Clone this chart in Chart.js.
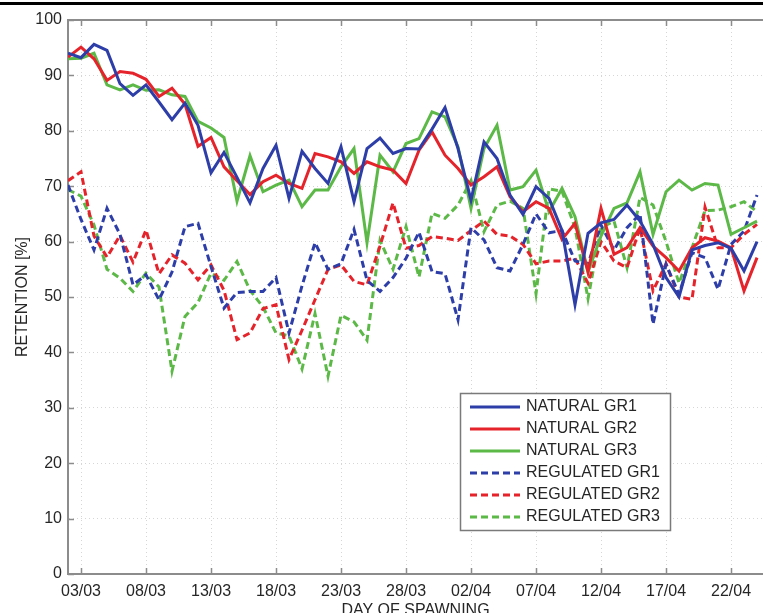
<!DOCTYPE html>
<html>
<head>
<meta charset="utf-8">
<script src="https://cdn.jsdelivr.net/npm/chart.js@4.4.0/dist/chart.umd.min.js"></script>
<style>
  html, body { margin: 0; padding: 0; background: #fff; }
  #wrap { width: 763px; height: 613px; }
</style>
</head>
<body>
<div id="wrap"><canvas id="myChart" width="763" height="613"></canvas></div>
<script>
// day index, 0 = 02/03
var days = [];
for (var d = 0; d <= 53; d++) days.push(d);

var tickPos = [1, 6, 11, 16, 21, 26, 31, 36, 41, 46, 51];
var tickLabels = ['03/03', '08/03', '13/03', '18/03', '23/03', '28/03', '02/04', '07/04', '12/04', '17/04', '22/04'];

var natGR1 = [94, 93.2, 95.6, 94.5, 88.5, 86.4, 88.3, 85.2, 82, 85,
  81, 72.4, 76.1, 71.6, 67, 73.2, 77.4, 67.8, 76.3, 73.2,
  70.5, 77.1, 67.2, 76.8, 78.7, 75.9, 76.8, 76.7, 80.3, 84.2,
  76.8, 67.5, 78, 75, 68.4, 64.9, 69.9, 67.8, 62, 48.6,
  61.5, 63.4, 64, 66.6, 63.7, 59.5, 53.5, 50, 58.5, 59.3,
  59.8, 58.8, 54.7, 60];
var natGR2 = [93.3, 95.1, 93, 89.1, 90.7, 90.4, 89.3, 86.2, 87.7, 84.8,
  77.2, 78.8, 73.5, 71, 68.5, 70.8, 72, 70.5, 69.6, 75.9,
  75.3, 74.4, 72.3, 74.4, 73.5, 72.9, 70.5, 76.5, 79.8, 75.6,
  73.2, 70.2, 71.7, 73.5, 68.1, 65.4, 67.2, 66, 60.4, 63.3,
  54.5, 66, 57.7, 58.9, 62.5, 59.2, 57.1, 54.7, 58.9, 60.7,
  60.1, 58.9, 51.1, 57.1];
var natGR3 = [93, 93.1, 94, 88.3, 87.4, 88.3, 87.3, 87.4, 86.5, 86.2,
  81.7, 80.5, 78.8, 67.3, 75.5, 69, 70.2, 71.1, 66.3, 69.3,
  69.3, 73.5, 76.8, 59.8, 75.6, 72.6, 77.7, 78.6, 83.4, 82.5,
  77.1, 66, 76.8, 81, 69.3, 69.9, 72.9, 65.4, 69.6, 64.5,
  54.5, 61, 66, 67, 72.6, 61.3, 69, 71.1, 69.3, 70.5,
  70.2, 61.3, 62.5, 63.7];
var regGR1 = [70.2, 64, 58.5, 66, 61.3, 52.2, 54, 49.5, 54.5, 62.7,
  63.3, 55.5, 48, 50.8, 51, 51, 53.5, 43.5, 52, 59.8,
  55, 56, 62.2, 53, 51, 53.5, 57, 61.7, 54.6, 54.2,
  45.9, 62.5, 60.3, 55.3, 54.7, 59.5, 65, 61.6, 62, 56.5,
  56, 63, 58.5, 62.5, 65, 45.1, 55.9, 50.5, 58, 57.1,
  51.4, 59.5, 61.9, 68.4];
var regGR2 = [71, 72.6, 61, 57.2, 61.1, 56.3, 62.1, 54.2, 57.6, 56.1,
  53.1, 55.8, 51.2, 42.3, 43.5, 47.9, 48.6, 38.7, 44, 49.5,
  55, 55.8, 52.8, 52.2, 59.2, 67, 58.8, 59.3, 60.9, 60.6,
  60.2, 62, 63.7, 61.3, 61, 59.5, 56, 56.5, 56.5, 57,
  52.5, 60, 56.5, 55.3, 62.5, 51.1, 56, 50, 49.6, 66.2,
  58.9, 58.9, 61.3, 63.1];
var regGR3 = [69.4, 68.2, 63, 55, 53.4, 51, 54.3, 51.8, 36.6, 46.5,
  49, 54.3, 53, 56.4, 51.2, 48.2, 43.5, 43, 37, 47,
  35.7, 46.7, 45.5, 42.2, 60.2, 55, 62.7, 53.6, 65.1, 64.2,
  66.6, 71, 61.8, 66.6, 67.3, 66, 50.6, 69.5, 69.1, 62.5,
  49.7, 62.5, 63.7, 55.3, 68, 66.6, 60, 52.5, 58.9, 65.6,
  65.7, 66.3, 67.2, 65.4];

var BLUE = '#2d3ea8', RED = '#e5232b', GREEN = '#5cb947';
var FONT = '"Liberation Sans", Arial, sans-serif';
var TEXT = '#262626';

function pts(arr) {
  return arr.map(function (v, i) { return { x: days[i], y: v }; });
}

function serie(label, arr, color, dashed) {
  return {
    label: label,
    data: pts(arr),
    borderColor: color,
    backgroundColor: color,
    borderWidth: 3,
    borderDash: dashed ? [7, 4] : [],
    pointRadius: 0,
    tension: 0,
    fill: false
  };
}

// legend box inside plot, like matlab
const legendBox = {
  id: 'legendBox',
  afterDatasetsDraw(chart) {
    const ctx = chart.ctx;
    ctx.save();
    ctx.fillStyle = '#fff';
    ctx.fillRect(460.5, 393.5, 210, 137);
    ctx.strokeStyle = '#7a7a7a';
    ctx.lineWidth = 1.5;
    ctx.strokeRect(460.5, 393.5, 210, 137);
    chart.data.datasets.forEach(function (ds, i) {
      const y = 407 + i * 22;
      ctx.strokeStyle = ds.borderColor;
      ctx.lineWidth = 3;
      ctx.setLineDash(ds.borderDash);
      ctx.beginPath();
      ctx.moveTo(470, y);
      ctx.lineTo(520, y);
      ctx.stroke();
      ctx.setLineDash([]);
      ctx.fillStyle = TEXT;
      ctx.font = '16px ' + FONT;
      ctx.textBaseline = 'middle';
      ctx.fillText(ds.label, 526, y);
    });
    ctx.restore();
  }
};

const frame = {
  id: 'frame',
  beforeDraw(chart) {
    const ctx = chart.ctx;
    ctx.save();
    ctx.fillStyle = '#000';
    ctx.fillRect(0, 2, chart.width, 3);
    ctx.restore();
  },
  beforeDatasetsDraw(chart) {
    const ctx = chart.ctx;
    const a = chart.chartArea;
    const x = chart.scales.x, y = chart.scales.y;
    ctx.save();
    ctx.strokeStyle = '#8c8c8c';
    ctx.lineWidth = 2;
    ctx.beginPath();
    ctx.moveTo(a.left, a.top);
    ctx.lineTo(a.right, a.top);
    ctx.stroke();
    ctx.lineWidth = 1.5;
    ctx.beginPath();
    x.ticks.forEach(function (t) {
      const px = Math.round(x.getPixelForValue(t.value)) + 0.5;
      ctx.moveTo(px, a.bottom); ctx.lineTo(px, a.bottom - 6);
      ctx.moveTo(px, a.top); ctx.lineTo(px, a.top + 6);
    });
    y.ticks.forEach(function (t) {
      const py = Math.round(y.getPixelForValue(t.value)) + 0.5;
      ctx.moveTo(a.left, py); ctx.lineTo(a.left + 6, py);
    });
    ctx.stroke();
    ctx.restore();
  }
};

const ctx = document.getElementById('myChart');

new Chart(ctx, {
  type: 'line',
  data: {
    datasets: [
      serie('NATURAL GR1', natGR1, BLUE, false),
      serie('NATURAL GR2', natGR2, RED, false),
      serie('NATURAL GR3', natGR3, GREEN, false),
      serie('REGULATED GR1', regGR1, BLUE, true),
      serie('REGULATED GR2', regGR2, RED, true),
      serie('REGULATED GR3', regGR3, GREEN, true)
    ]
  },
  options: {
    responsive: false,
    animation: false,
    layout: { padding: { top: 20, right: 0, left: 0, bottom: 0 } },
    plugins: {
      legend: { display: false },
      tooltip: { enabled: false }
    },
    scales: {
      x: {
        type: 'linear',
        min: 0,
        max: 53.46,
        afterBuildTicks: function (scale) {
          scale.ticks = tickPos.map(function (v) { return { value: v }; });
        },
        afterFit: function (scale) { scale.height = 39; },
        ticks: {
          autoSkip: false,
          maxRotation: 0,
          padding: 8,
          color: TEXT,
          font: { family: FONT, size: 16 },
          callback: function (v, i) { return tickLabels[i]; }
        },
        grid: { color: '#d6d6d6', drawTicks: false },
        border: { color: '#8c8c8c', width: 2, dash: [1, 3] },
        title: {
          display: true,
          text: 'DAY OF SPAWNING',
          color: TEXT,
          font: { family: FONT, size: 16, lineHeight: 1 },
          padding: { top: 0, bottom: -6 }
        }
      },
      y: {
        min: 0,
        max: 100,
        afterFit: function (scale) { scale.width = 68; },
        ticks: {
          stepSize: 10,
          padding: 6,
          color: TEXT,
          font: { family: FONT, size: 16 }
        },
        grid: { color: '#d6d6d6', drawTicks: false },
        border: { color: '#8c8c8c', width: 2, dash: [1, 3] },
        title: {
          display: true,
          text: 'RETENTION [%]',
          color: TEXT,
          font: { family: FONT, size: 16, lineHeight: 1 },
          padding: { top: 15, bottom: 0 }
        }
      }
    }
  },
  plugins: [frame, legendBox]
});
</script>
</body>
</html>
